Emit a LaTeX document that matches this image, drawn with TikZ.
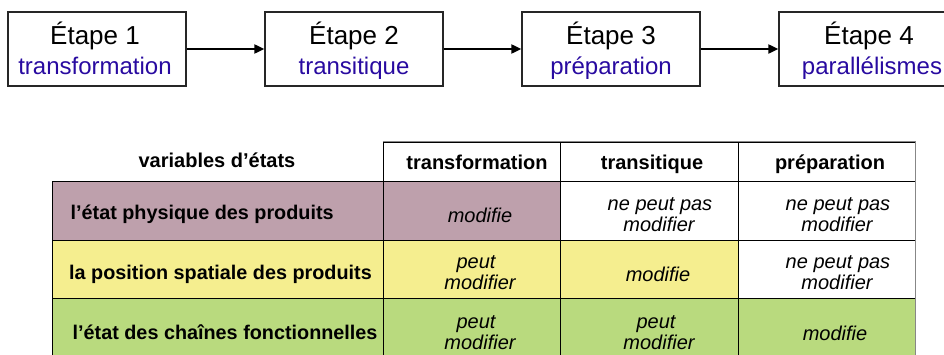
\documentclass[tikz,border=0pt]{standalone}
\usepackage{fontspec}
\setmainfont{Liberation Sans}
\usetikzlibrary{arrows.meta}
\definecolor{stepblue}{RGB}{40,10,160}
\definecolor{mauve}{RGB}{190,160,172}
\definecolor{paleyellow}{RGB}{245,238,143}
\definecolor{palegreen}{RGB}{185,218,126}
\definecolor{bordergray}{RGB}{135,135,135}
\begin{document}
\begin{tikzpicture}[x=1pt,y=-1pt,
  stepbox/.style={draw=black!85, line width=1.3pt, minimum width=178pt, minimum height=74pt, inner sep=0pt},
  steptitle/.style={anchor=base, inner sep=0pt, font=\fontsize{26}{30}\selectfont},
  stepsub/.style={anchor=base, inner sep=0pt, text=stepblue, font=\fontsize{24}{28}\selectfont},
  flow/.style={line width=2pt, -{Triangle[length=10pt,width=9pt]}},
  cell/.style={draw=black, line width=1pt, inner sep=0pt, minimum height=59pt},
  head/.style={anchor=base, inner sep=0pt, font=\fontsize{20}{24}\selectfont\bfseries},
  rowlabel/.style={anchor=base west, inner sep=0pt, font=\fontsize{19.8}{24}\selectfont\bfseries},
  val/.style={anchor=base, inner sep=0pt, font=\fontsize{20}{24}\selectfont\itshape}
]
\useasboundingbox (0,0) rectangle (944,354);

% ---- top flow ----
\node[stepbox] (b1) at (97,49) {};
\node[stepbox] (b2) at (354,49) {};
\node[stepbox] (b3) at (611,49) {};
\node[stepbox, minimum width=180pt] (b4) at (869,49) {};

\node[steptitle] (t1) at (95,44) {Étape 1};
\node[stepsub]   (s1) at (95,74) {transformation};
\node[steptitle] (t2) at (354,44) {Étape 2};
\node[stepsub]   (s2) at (354,74) {transitique};
\node[steptitle] (t3) at (611,44) {Étape 3};
\node[stepsub]   (s3) at (611,74) {préparation};
\node[steptitle] (t4) at (869,44) {Étape 4};
\node[stepsub]   (s4) at (872,74) {parallélismes};

\draw[flow] (b1.east) -- (b2.west);
\draw[flow] (b2.east) -- (b3.west);
\draw[flow] (b3.east) -- (b4.west);

% ---- table cells ----
% header row
\node[cell, minimum height=39pt, minimum width=177pt] (h1) at (471.5,161.5) {};
\node[cell, minimum height=39pt, minimum width=178pt] (h2) at (649,161.5) {};
\node[cell, minimum height=39pt, minimum width=177pt] (h3) at (826.5,161.5) {};
% row 1
\node[cell, fill=mauve, minimum width=331pt] (r1c0) at (217.5,210.5) {};
\node[cell, fill=mauve, minimum width=177pt] (r1c1) at (471.5,210.5) {};
\node[cell, fill=white, minimum width=178pt] (r1c2) at (649,210.5) {};
\node[cell, fill=white, minimum width=177pt] (r1c3) at (826.5,210.5) {};
% row 2
\node[cell, fill=paleyellow, minimum width=331pt, minimum height=58pt] (r2c0) at (217.5,269) {};
\node[cell, fill=paleyellow, minimum width=177pt, minimum height=58pt] (r2c1) at (471.5,269) {};
\node[cell, fill=paleyellow, minimum width=178pt, minimum height=58pt] (r2c2) at (649,269) {};
\node[cell, fill=white, minimum width=177pt, minimum height=58pt] (r2c3) at (826.5,269) {};
% row 3
\node[cell, fill=palegreen, minimum width=331pt] (r3c0) at (217.5,327.5) {};
\node[cell, fill=palegreen, minimum width=177pt] (r3c1) at (471.5,327.5) {};
\node[cell, fill=palegreen, minimum width=178pt] (r3c2) at (649,327.5) {};
\node[cell, fill=palegreen, minimum width=177pt] (r3c3) at (826.5,327.5) {};
% outer grey frame
\draw[bordergray, line width=1.6pt] (h1.north west) -- (h3.north east) -- (r3c3.south east);

% ---- table texts ----
\node[head] (hv) at (217,167) {variables d’états};
\node[head] (ht1) at (477,169) {transformation};
\node[head] (ht2) at (652,169) {transitique};
\node[head] (ht3) at (830,169) {préparation};

\node[rowlabel] (l1) at (70.5,219) {l’état physique des produits};
\node[rowlabel] (l2) at (69,279) {la position spatiale des produits};
\node[rowlabel] (l3) at (72.5,339) {l’état des chaînes fonctionnelles};

% row 1 values
\node[val] (v11) at (480,222) {modifie};
\node[val] (v12a) at (660,210) {ne peut pas};
\node[val] (v12b) at (659,231) {modifier};
\node[val] (v13a) at (838,210) {ne peut pas};
\node[val] (v13b) at (837,231) {modifier};
% row 2 values
\node[val] (v21a) at (476,268) {peut};
\node[val] (v21b) at (480,289) {modifier};
\node[val] (v22) at (658,281) {modifie};
\node[val] (v23a) at (838,268) {ne peut pas};
\node[val] (v23b) at (837,289) {modifier};
% row 3 values
\node[val] (v31a) at (476,328) {peut};
\node[val] (v31b) at (480,349) {modifier};
\node[val] (v32a) at (656,328) {peut};
\node[val] (v32b) at (659,349) {modifier};
\node[val] (v33) at (835,340) {modifie};
\end{tikzpicture}
\end{document}
